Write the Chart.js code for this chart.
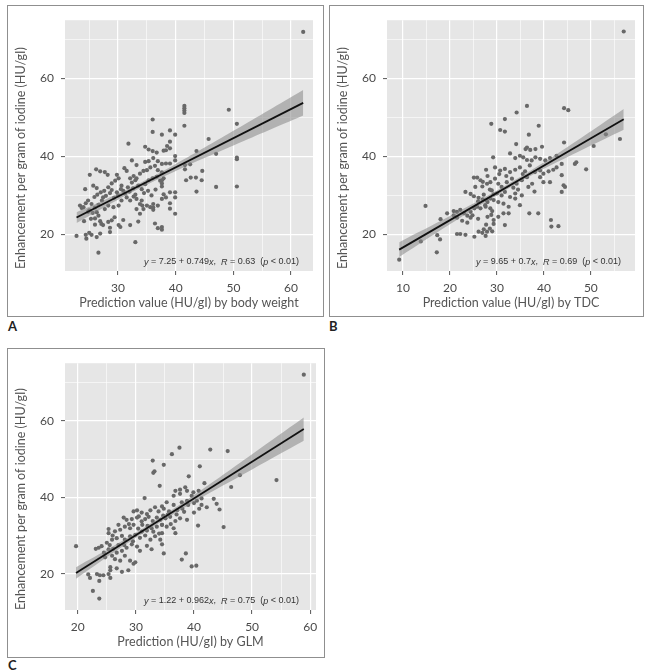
<!DOCTYPE html>
<html><head><meta charset="utf-8">
<script src="https://cdn.jsdelivr.net/npm/chart.js@4.4.1/dist/chart.umd.min.js"></script>
<style>
html,body{margin:0;padding:0;background:#fff;}
body{width:656px;height:672px;position:relative;overflow:hidden;}
.panel{position:absolute;border:1px solid #8f8f8f;}
.panel canvas{display:block;}
.lab{position:absolute;font-family:Lato,sans-serif;font-weight:bold;font-size:13px;color:#222;}
</style></head>
<body>
<div class="panel" style="left:7px;top:5px;width:315px;height:310px"><canvas id="cA" width="315" height="310"></canvas></div>
<div class="panel" style="left:329px;top:5px;width:313px;height:310px"><canvas id="cB" width="313" height="310"></canvas></div>
<div class="panel" style="left:7px;top:348px;width:316px;height:308px"><canvas id="cC" width="316" height="308"></canvas></div>
<div class="lab" style="left:8px;top:318px">A</div>
<div class="lab" style="left:329px;top:318px">B</div>
<div class="lab" style="left:8px;top:657px">C</div>
<script>
// ---------------- data ----------------
const yTitle = 'Enhancement per gram of iodine (HU/gI)\u2002\u2002\u2002\u2002';
const xTitles = ['Prediction value (HU/gI) by body weight','Prediction value (HU/gI) by TDC','Prediction (HU/gI) by GLM'];
const yMajor = [20,40,60];
const yMinor = [30,50,70];
const xMajorA = [30,40,50,60], xMinorA = [25,35,45,55];
const xMajorB = [10,20,30,40,50], xMinorB = [15,25,35,45,55];
const xMajorC = [20,30,40,50,60], xMinorC = [25,35,45,55];

// Panel A points
const aX = [36.0,36.0,37.6,31.8,34.7,35.3,36.0,36.7,37.9,32.4,33.2,34.7,35.3,36.1,36.9,37.6,26.2,25.1,26.9,27.7,28.2,29.8,30.1,31.1,31.5,29.5,28.9,30.6,32.1,32.7,33.2,33.8,34.4,35.0,35.6,36.4,36.9,37.6,24.3,25.7,26.3,27.0,27.6,28.3,28.9,29.8,30.9,31.7,32.4,33.0,33.5,34.1,34.7,35.3,36.0,36.7,37.3,37.9,23.4,23.7,24.4,24.8,25.4,26.0,26.6,27.2,27.4,26.3,26.6,26.0,26.9,27.7,28.3,29.2,30.1,30.6,31.5,32.1,32.7,33.2,33.8,34.4,35.0,35.6,36.1,36.9,37.6,37.9,33.2,33.8,34.2,34.1,28.9,29.4,28.3,27.4,27.1,30.9,32.1,33.5,36.1,36.1,36.4,36.9,22.8,24.4,25.0,25.4,24.5,26.3,26.9,26.6,33.0,28.6,28.6,30.1,30.4,
  62.1,41.5,41.5,41.5,41.5,41.5,49.2,50.6,45.7,39.0,39.9,39.0,38.5,39.0,38.3,43.6,47.0,50.6,50.6,39.9,39.9,38.3,39.0,41.6,41.6,42.5,44.6,41.8,42.6,43.5,44.5,43.6,47.0,50.6,37.6,37.6,37.6,39.0,39.9,38.3,39.9,39.0,39.0,39.9,37.6,37.6,
  24.0,25.0,25.6,24.8,25.9,26.4,27.9,28.6,29.3,30.0,30.5,31.2,32.0,32.6,33.0,34.5,35.2,35.8,36.5,25.3,26.0,24.1];
const aY = [49.5,46.3,45.6,43.3,42.5,41.8,41.4,41.0,41.5,39.0,37.8,38.6,38.8,39.6,38.8,38.1,36.7,35.3,36.2,36.0,35.3,35.3,34.4,37.0,36.3,33.8,33.1,32.5,34.4,35.0,34.4,35.6,36.3,36.5,37.2,37.6,36.5,35.9,31.6,32.5,31.9,30.8,31.2,32.1,31.4,30.8,31.2,32.1,33.3,33.9,32.5,31.6,32.9,33.9,34.4,34.8,33.8,34.4,27.4,26.8,28.0,28.7,27.8,26.9,27.6,28.7,29.5,25.7,24.8,24.1,23.4,26.5,27.4,27.0,27.4,28.7,29.5,28.7,29.7,29.1,27.8,26.5,27.4,27.0,27.8,27.4,29.1,30.3,26.5,25.3,27.4,28.7,23.6,24.4,23.2,22.4,22.7,23.7,22.4,23.3,26.9,26.3,22.8,21.6,19.6,19.9,20.4,19.9,18.9,19.3,20.2,15.3,18.0,20.6,21.7,22.4,21.9,
  72.0,53.0,52.4,51.8,51.2,47.9,52.0,48.4,44.5,46.7,45.6,43.8,42.7,42.1,41.6,41.4,40.7,39.7,39.3,40.1,39.0,38.2,38.2,37.8,36.7,38.0,36.3,33.9,34.6,34.6,33.9,31.0,32.2,32.3,33.9,33.1,32.3,30.8,30.8,29.5,29.5,28.0,26.6,25.3,21.9,21.2,
  27.0,26.2,25.5,25.8,29.6,30.2,29.9,30.6,29.4,30.0,31.6,30.5,31.0,31.8,30.2,30.6,31.2,30.0,31.5,24.0,22.5,23.4];

// Panel B points
const bX = [28.8,29.2,27.7,25.1,25.8,26.5,25.4,26.9,27.9,28.6,23.3,24.4,25.1,26.1,27.2,27.8,28.6,29.3,14.8,19.4,20.8,21.5,22.2,23.0,23.7,24.4,25.2,25.8,26.5,27.6,28.6,18.0,20.8,21.5,22.6,23.7,24.4,24.8,21.5,22.2,23.3,25.2,27.2,26.9,27.6,27.9,26.1,17.3,17.9,13.8,17.2,9.2,29.0,29.3,
  57.0,44.3,45.2,36.4,34.2,31.7,30.7,31.7,38.9,36.8,34.1,44.3,53.2,56.2,50.6,36.1,36.4,37.1,38.2,39.6,32.8,33.9,34.9,35.6,36.4,37.4,38.2,39.2,40.3,41.3,42.7,29.6,30.7,31.7,32.8,33.9,34.9,36.0,37.0,38.1,39.2,39.9,41.0,42.0,42.7,43.8,46.6,46.9,49.0,43.8,44.2,44.5,43.8,39.2,39.9,41.3,29.6,30.3,31.0,32.1,33.2,34.2,35.3,36.4,28.9,30.0,31.0,31.7,32.8,33.9,35.3,36.7,29.3,30.3,31.4,32.5,33.9,34.9,31.4,32.5,29.3,30.3,31.7,36.9,38.8,41.5,41.6,43.1,
  28.0,27.0,28.5,27.0,28.0,26.0,27.5,29.0,28.0,28.8,26.0,27.7,28.5,30.5,32.0,33.5,34.5,35.5,37.5,38.0];
const bY = [48.4,39.8,36.6,34.6,34.6,33.9,32.2,32.3,33.0,33.4,30.9,30.4,29.8,29.4,30.2,28.7,29.2,30.3,27.3,25.4,26.0,25.8,26.3,25.4,24.8,25.8,26.7,27.1,26.7,27.1,26.7,23.9,24.9,24.3,23.5,23.0,24.3,24.9,20.1,20.1,19.9,19.4,21.3,20.4,19.6,20.7,20.7,19.8,18.7,18.2,15.4,13.5,20.8,22.7,
  72.1,52.4,51.9,53.0,51.3,49.6,46.8,46.4,47.9,45.6,43.2,43.6,45.7,44.5,42.7,41.9,42.3,41.7,41.9,42.5,40.8,39.6,40.2,39.8,39.1,39.0,39.8,39.4,39.0,39.6,40.2,37.2,36.4,36.8,36.0,36.6,37.2,36.2,37.7,36.0,36.4,35.6,36.2,36.6,37.2,38.1,38.1,38.5,36.7,35.2,32.6,32.2,30.9,34.7,33.4,33.4,34.3,33.0,32.2,33.4,34.3,33.0,33.9,34.7,31.3,30.5,30.0,30.9,29.6,30.5,30.0,32.2,28.8,28.3,27.9,27.1,29.2,27.5,25.4,25.4,23.7,24.5,22.4,25.4,25.4,23.7,22.0,22.1,
  35.0,33.5,31.5,29.0,28.3,28.5,27.5,26.0,24.5,25.0,24.0,22.5,21.5,35.5,35.0,32.0,31.5,35.5,33.0,31.0];

// Panel C points
const cX = [32.9,33.2,33.0,34.1,31.5,19.7,29.6,30.2,31.0,31.9,32.5,33.3,33.9,34.5,27.9,28.4,29.3,30.2,31.0,31.6,32.2,32.9,33.6,34.2,34.7,25.3,25.3,26.4,27.3,28.1,29.0,29.6,30.4,31.1,31.9,32.7,33.6,34.5,23.6,23.1,24.1,25.0,25.9,26.7,27.6,28.1,29.0,29.9,30.7,31.6,32.5,33.3,34.2,25.3,26.1,26.7,27.6,28.4,29.3,30.2,30.7,31.9,32.7,24.7,25.9,26.4,27.3,28.1,29.0,29.6,29.9,21.8,22.1,23.3,23.8,24.4,25.3,25.6,26.7,27.6,28.7,23.7,22.6,23.7,25.6,25.6,
  58.9,37.5,36.2,42.8,45.8,34.8,41.0,47.9,39.1,54.2,46.4,41.8,36.8,37.6,38.5,38.8,39.9,40.8,36.5,37.6,39.6,41.3,35.3,36.5,37.9,38.8,40.5,41.3,42.2,43.4,43.9,44.4,34.8,35.7,37.1,38.3,40.0,40.9,35.1,35.9,36.8,37.6,38.8,34.5,35.3,36.5,36.8,40.7,45.1,34.5,34.8,34.5,38.6,37.9,39.6,40.4,
  30.5,28.8,27.0,26.0,27.0,28.0,29.5,31.0,32.0,33.0,34.0,35.5,36.0,37.0,38.0,39.0,40.0,24.5,25.5];
const cY = [49.6,46.8,46.4,43.0,39.8,27.2,36.3,36.6,36.0,35.6,36.6,37.4,36.3,37.6,34.7,34.1,34.3,34.7,33.7,34.3,34.9,33.8,34.7,34.1,35.2,31.7,30.6,31.1,31.5,32.3,31.9,32.8,31.8,32.8,31.3,31.9,32.3,32.8,26.8,26.5,27.2,28.1,28.9,29.3,29.9,28.9,29.8,30.2,29.4,30.0,28.9,29.8,28.9,26.4,26.5,25.5,26.0,26.8,27.7,27.1,26.0,27.3,26.4,24.3,24.7,23.8,23.4,24.7,23.4,22.6,23.0,19.8,18.9,19.9,19.6,19.6,19.9,18.9,21.4,20.5,20.9,18.1,15.5,13.5,20.9,21.7,
  72.1,53.0,51.3,52.5,52.1,48.5,48.1,45.8,45.5,44.5,42.7,43.7,41.7,42.0,42.6,41.7,41.3,41.7,40.4,40.9,40.4,39.7,38.7,38.0,38.7,39.1,39.1,38.0,37.4,39.6,38.3,36.8,37.0,36.3,36.6,36.2,36.0,37.0,34.5,34.9,33.8,34.5,34.1,32.8,32.3,31.9,30.6,32.6,32.2,27.7,25.3,30.6,25.3,23.7,21.9,22.1,
  35.0,33.0,32.8,30.0,27.5,27.5,28.5,31.0,32.5,31.0,30.5,35.5,33.0,35.5,37.0,38.0,38.5,25.5,27.5];

// fitted lines and confidence bands
const lineAX = [22.8,62.1], lineAY = [24.33,53.76];
const bandAX = [22.8,28,33,40,50,62.1], bandALo = [22.9,27.3,31.3,36.3,42.8,50.5], bandAHi = [25.7,29.1,32.6,38.1,46.6,57.1];
const lineBX = [9.2,57], lineBY = [16.09,49.55];
const bandBX = [9.2,20,31,42,57], bandBLo = [14.2,22.6,30.75,38.05,46.9], bandBHi = [18.0,24.7,31.95,40.05,52.2];
const lineCX = [19.7,58.9], lineCY = [20.17,57.88];
const bandCX = [19.7,26,32,40,50,58.9], bandCLo = [18.7,25.35,31.4,38.8,47.3,54.8], bandCHi = [21.7,27.1,32.6,40.6,51.3,60.9];

const eqA = [['y',1],[' = 7.25 + 0.749',0],['x',1],[',  ',0],['R',1],[' = 0.63  (',0],['p',1],[' < 0.01)',0]];
const eqB = [['y',1],[' = 9.65 + 0.7',0],['x',1],[',  ',0],['R',1],[' = 0.69  (',0],['p',1],[' < 0.01)',0]];
const eqC = [['y',1],[' = 1.22 + 0.962',0],['x',1],[',  ',0],['R',1],[' = 0.75  (',0],['p',1],[' < 0.01)',0]];

// ---------------- drawing ----------------
const zip = (xs, ys) => xs.map((x,i)=>({x, y: ys[i]}));
const FONT = 'Lato, "Open Sans", sans-serif';

function axis(min, max, major, minor, title, size, tpad, tickPad){
  const all = major.concat(minor).sort((a,b)=>a-b);
  const isMaj = c => c && c.tick && major.includes(c.tick.value);
  return {
    type:'linear', min, max,
    afterBuildTicks: s => { s.ticks = all.map(v=>({value:v})); },
    afterFit: s => { if (s.isHorizontal()) s.height = size; else s.width = size; },
    ticks:{autoSkip:false, maxRotation:0, color:'#4a4a4a', padding:tickPad,
      font:{family:FONT, size:12},
      callback: v => major.includes(v) ? String(v) : ''},
    grid:{color:'#ffffff', lineWidth: c => isMaj(c) ? 1.2 : 0.6,
      tickColor: c => isMaj(c) ? '#555555' : 'rgba(0,0,0,0)', tickLength:4, tickWidth:1},
    border:{display:false},
    title:{display:true, text:title, color:'#555555', font:{family:FONT, size:12.5}, padding:tpad}
  };
}

function makeChart(id, p){
  const bg = {id:'bg'+id, beforeDraw(ch){ const a=ch.chartArea, c=ch.ctx; c.save(); c.fillStyle='#e6e6e6'; c.fillRect(a.left,a.top,a.right-a.left,a.bottom-a.top); c.restore(); }};
  const eq = {id:'eq'+id, afterDraw(ch){
    const a=ch.chartArea, c=ch.ctx; c.save();
    c.fillStyle='#333'; c.textBaseline='middle';
    const f = it => (it ? 'italic ' : '') + '9px "Liberation Sans", Arial, sans-serif';
    let w=0; p.eq.forEach(s=>{ c.font=f(s[1]); w+=c.measureText(s[0]).width; });
    let x = a.right - p.eqRight - w; const y = a.bottom - p.eqBottom;
    p.eq.forEach(s=>{ c.font=f(s[1]); c.fillText(s[0], x, y); x += c.measureText(s[0]).width; });
    c.restore(); }};
  new Chart(document.getElementById(id), {
    type:'scatter',
    data:{datasets:[
      {type:'line', data:p.line, borderColor:'#111', borderWidth:1.8, pointRadius:0, fill:false, order:1},
      {type:'line', data:p.hi, borderWidth:0, borderColor:'rgba(0,0,0,0)', pointRadius:0, tension:0.4, fill:'+1', backgroundColor:'rgba(135,135,135,0.55)', order:2},
      {type:'line', data:p.lo, borderWidth:0, borderColor:'rgba(0,0,0,0)', pointRadius:0, tension:0.4, fill:false, order:2},
      {data:p.pts, backgroundColor:'#686868', borderColor:'#686868', borderWidth:0, pointRadius:2.1, order:3}
    ]},
    options:{
      responsive:false, animation:false, devicePixelRatio:1, events:[],
      layout:{padding:p.pad},
      plugins:{legend:{display:false}, tooltip:{enabled:false}},
      scales:{
        x: axis(p.xmin, p.xmax, p.xMaj, p.xMin, p.xTitle, p.xh, {top:0,bottom:p.xtp}, 6),
        y: axis(p.ymin, p.ymax, yMajor, yMinor, yTitle, 57, {top:5,bottom:0}, 7)
      }
    },
    plugins:[bg, eq]
  });
}

makeChart('cA', {pts:zip(aX,aY), line:zip(lineAX,lineAY), hi:zip(bandAX,bandAHi), lo:zip(bandAX,bandALo),
  xmin:20.8, xmax:63.8, ymin:10.6, ymax:75, xMaj:xMajorA, xMin:xMinorA, xTitle:xTitles[0],
  pad:{top:12,right:10,left:0,bottom:0}, xh:45, xtp:6, eq:eqA, eqRight:14, eqBottom:9});
makeChart('cB', {pts:zip(bX,bY), line:zip(lineBX,lineBY), hi:zip(bandBX,bandBHi), lo:zip(bandBX,bandBLo),
  xmin:6.6, xmax:59.4, ymin:10.6, ymax:75, xMaj:xMajorB, xMin:xMinorB, xTitle:xTitles[1],
  pad:{top:12,right:8,left:0,bottom:0}, xh:45, xtp:6, eq:eqB, eqRight:14, eqBottom:9});
makeChart('cC', {pts:zip(cX,cY), line:zip(lineCX,lineCY), hi:zip(bandCX,bandCHi), lo:zip(bandCX,bandCLo),
  xmin:17.8, xmax:61, ymin:10.5, ymax:75.1, xMaj:xMajorC, xMin:xMinorC, xTitle:xTitles[2],
  pad:{top:9,right:8,left:0,bottom:0}, xh:47, xtp:8, eq:eqC, eqRight:17, eqBottom:9});
</script>
</body></html>
